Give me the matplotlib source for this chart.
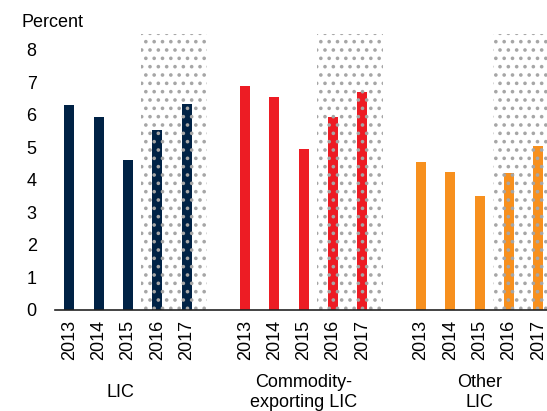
import numpy as np
import matplotlib
matplotlib.use("Agg")
import matplotlib.pyplot as plt

plt.rcParams['font.family'] = ['Liberation Sans', 'DejaVu Sans']
plt.rcParams['hatch.linewidth'] = 1.4

# Data
years = ["2013", "2014", "2015", "2016", "2017"]
groups = ["LIC", "Commodity-\nexporting LIC", "Other\nLIC"]
lic = [6.3, 5.95, 4.6, 5.55, 6.35]
commodity = [6.9, 6.55, 4.95, 5.95, 6.7]
other = [4.55, 4.25, 3.5, 4.2, 5.05]
colors = ["#002245", "#ED1C24", "#F7901E"]

series = [lic, commodity, other]

fig = plt.figure(figsize=(5.47, 4.11), dpi=100)
ax = fig.add_axes([0.1, 0.246, 0.9, 0.672])

tick_pos = []
tick_lab = []
for g, (vals, col) in enumerate(zip(series, colors)):
    pos = np.arange(len(years)) + g * 6
    ax.bar(pos, vals, width=0.34, color=col, zorder=2)
    # forecast shading for 2016-2017
    ax.axvspan(pos[3] - 0.55, pos[4] + 0.7, ymin=0, ymax=1, facecolor="none",
               edgecolor="#A6A6A6", hatch="..", linewidth=0, zorder=3)
    tick_pos.extend(pos)
    tick_lab.extend(years)
    xc = pos.mean() - (0.25 if g == 0 else 0)
    ax.text(xc, -2.55, groups[g], ha="center", va="center", fontsize=13,
            linespacing=1.2)

ax.set_xlim(-0.5, 16.3)
ax.set_ylim(0, 8.5)
ax.set_yticks(range(0, 9))
ax.set_xticks(tick_pos)
ax.set_xticklabels(tick_lab, rotation=90)
ax.tick_params(axis="y", length=0, pad=13, labelsize=13)
ax.tick_params(axis="x", length=0, pad=7, labelsize=13)

for s in ["top", "right", "left"]:
    ax.spines[s].set_visible(False)
ax.spines["bottom"].set_color("#222222")
ax.spines["bottom"].set_linewidth(1.2)
ax.spines["bottom"].set_zorder(4)

fig.text(0.04, 0.946, "Percent", fontsize=13, ha="left", va="center")

fig.savefig("out.png", dpi=100)
